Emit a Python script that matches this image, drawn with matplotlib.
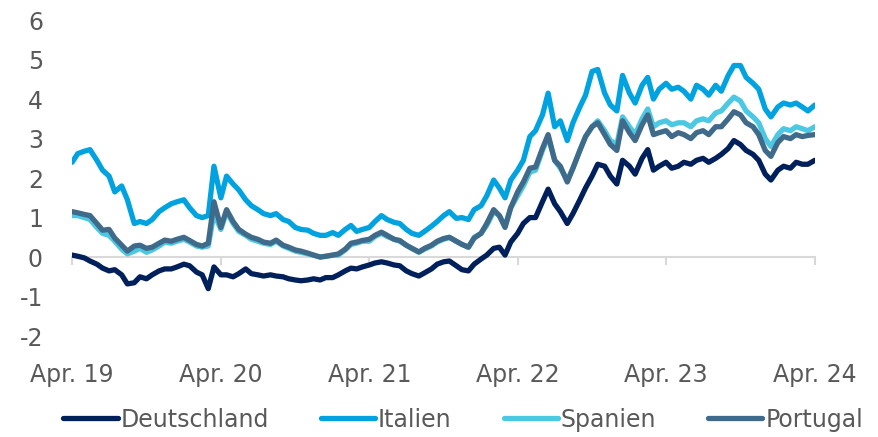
import numpy as np
import pandas as pd
import matplotlib
matplotlib.use("Agg")
import matplotlib.pyplot as plt

# 10-year government bond yields, semi-monthly readings (%)
deutschland = [0.05, 0.02, -0.02, -0.10, -0.18, -0.28, -0.35, -0.32, -0.45, -0.68,
               -0.65, -0.50, -0.55, -0.45, -0.35, -0.30, -0.30, -0.25, -0.18, -0.22,
               -0.38, -0.45, -0.80, -0.25, -0.45, -0.45, -0.50, -0.42, -0.30, -0.42,
               -0.45, -0.48, -0.45, -0.48, -0.50, -0.55, -0.58, -0.60, -0.58, -0.55,
               -0.58, -0.52, -0.52, -0.45, -0.35, -0.28, -0.30, -0.25, -0.20, -0.15,
               -0.12, -0.15, -0.20, -0.22, -0.35, -0.42, -0.48, -0.40, -0.30, -0.18,
               -0.12, -0.10, -0.22, -0.32, -0.35, -0.18, -0.05, 0.05, 0.22, 0.25,
               0.05, 0.38, 0.60, 0.85, 1.00, 1.00, 1.40, 1.72, 1.35, 1.15,
               0.85, 1.10, 1.45, 1.75, 2.05, 2.35, 2.30, 2.05, 1.85, 2.45,
               2.30, 2.10, 2.50, 2.72, 2.20, 2.30, 2.40, 2.25, 2.30, 2.40,
               2.35, 2.45, 2.50, 2.40, 2.50, 2.60, 2.75, 2.95, 2.85, 2.70,
               2.60, 2.45, 2.10, 1.95, 2.20, 2.30, 2.25, 2.40, 2.35, 2.35,
               2.45]
italien = [2.40, 2.62, 2.68, 2.72, 2.45, 2.20, 2.05, 1.65, 1.80, 1.45,
           0.85, 0.90, 0.85, 0.95, 1.15, 1.25, 1.35, 1.40, 1.45, 1.25,
           1.05, 1.00, 1.05, 2.30, 1.50, 2.05, 1.85, 1.70, 1.45, 1.30,
           1.20, 1.10, 1.05, 1.10, 0.95, 0.90, 0.75, 0.70, 0.68, 0.60,
           0.55, 0.55, 0.62, 0.55, 0.70, 0.80, 0.65, 0.70, 0.75, 0.90,
           1.05, 0.95, 0.88, 0.85, 0.70, 0.60, 0.55, 0.65, 0.78, 0.90,
           1.05, 1.15, 0.98, 1.00, 0.95, 1.20, 1.30, 1.55, 1.95, 1.75,
           1.50, 1.95, 2.20, 2.45, 3.05, 3.20, 3.60, 4.15, 3.30, 3.45,
           2.95, 3.40, 3.80, 4.10, 4.70, 4.75, 4.15, 3.85, 3.70, 4.60,
           4.15, 3.90, 4.35, 4.55, 4.00, 4.25, 4.40, 4.25, 4.30, 4.20,
           4.00, 4.35, 4.25, 4.10, 4.35, 4.20, 4.60, 4.85, 4.85, 4.55,
           4.40, 4.25, 3.75, 3.55, 3.80, 3.90, 3.85, 3.90, 3.80, 3.70,
           3.85]
spanien = [1.05, 1.05, 1.00, 0.95, 0.75, 0.60, 0.55, 0.40, 0.20, 0.08,
           0.15, 0.22, 0.12, 0.18, 0.28, 0.38, 0.35, 0.40, 0.45, 0.38,
           0.28, 0.25, 0.28, 1.10, 0.70, 1.15, 0.85, 0.65, 0.55, 0.45,
           0.40, 0.35, 0.32, 0.40, 0.28, 0.22, 0.15, 0.12, 0.08, 0.05,
           0.00, 0.02, 0.05, 0.05, 0.18, 0.32, 0.35, 0.40, 0.40, 0.52,
           0.60, 0.52, 0.45, 0.40, 0.30, 0.22, 0.12, 0.20, 0.28, 0.38,
           0.45, 0.50, 0.40, 0.32, 0.25, 0.50, 0.60, 0.80, 1.15, 1.05,
           0.78, 1.25, 1.55, 1.80, 2.15, 2.20, 2.70, 3.05, 2.45, 2.25,
           1.95, 2.25, 2.70, 3.05, 3.30, 3.45, 3.20, 2.95, 2.85, 3.55,
           3.30, 3.10, 3.50, 3.75, 3.30, 3.40, 3.45, 3.35, 3.40, 3.40,
           3.30, 3.45, 3.50, 3.45, 3.65, 3.70, 3.90, 4.05, 3.95, 3.70,
           3.55, 3.40, 3.00, 2.80, 3.10, 3.25, 3.20, 3.30, 3.25, 3.20,
           3.30]
portugal = [1.15, 1.12, 1.08, 1.05, 0.85, 0.68, 0.70, 0.48, 0.30, 0.15,
            0.28, 0.30, 0.22, 0.25, 0.35, 0.43, 0.40, 0.45, 0.50, 0.42,
            0.32, 0.28, 0.35, 1.40, 0.75, 1.20, 0.90, 0.70, 0.58, 0.50,
            0.45, 0.38, 0.35, 0.43, 0.30, 0.25, 0.18, 0.15, 0.10, 0.05,
            0.00, 0.02, 0.05, 0.08, 0.20, 0.35, 0.38, 0.42, 0.45, 0.55,
            0.63, 0.55, 0.45, 0.42, 0.30, 0.22, 0.13, 0.22, 0.30, 0.40,
            0.47, 0.50, 0.40, 0.32, 0.25, 0.48, 0.60, 0.85, 1.20, 1.05,
            0.75, 1.25, 1.65, 1.90, 2.25, 2.28, 2.75, 3.10, 2.45, 2.30,
            1.90, 2.25, 2.70, 3.05, 3.30, 3.40, 3.10, 2.85, 2.70, 3.45,
            3.15, 2.95, 3.35, 3.60, 3.10, 3.15, 3.20, 3.05, 3.15, 3.10,
            3.00, 3.15, 3.20, 3.10, 3.30, 3.30, 3.50, 3.68, 3.60, 3.40,
            3.30, 3.10, 2.70, 2.55, 2.90, 3.05, 3.00, 3.10, 3.05, 3.08,
            3.10]

dates = pd.date_range("2019-04-01", periods=len(deutschland), freq="SMS")
tick_dates = pd.to_datetime(["2019-04-01", "2020-04-01", "2021-04-01",
                             "2022-04-01", "2023-04-01", "2024-04-01"])
tick_labels = ["Apr. 19", "Apr. 20", "Apr. 21", "Apr. 22", "Apr. 23", "Apr. 24"]

series = [("Deutschland", deutschland, "#00205B"),
          ("Italien", italien, "#00A3E0"),
          ("Spanien", spanien, "#4DC8E3"),
          ("Portugal", portugal, "#3F6A8A")]

grey = "#595959"
plt.rcParams["font.family"] = ["DejaVu Sans"]
plt.rcParams["axes.unicode_minus"] = False

fig = plt.figure(figsize=(8.79, 4.37), dpi=100)
ax = fig.add_axes([0.082, 0.231, 0.845, 0.723])

for name, vals, col in series:
    ax.plot(dates, vals, color=col, lw=3.8, label=name,
            solid_joinstyle="round", solid_capstyle="round")

ax.set_xlim(tick_dates[0], tick_dates[-1])
ax.set_ylim(-2, 6)
ax.set_yticks(range(-2, 7))

for s in ["top", "right", "left"]:
    ax.spines[s].set_visible(False)
ax.spines["bottom"].set_position(("data", 0))
ax.spines["bottom"].set_color("#D9D9D9")
ax.spines["bottom"].set_linewidth(1.5)
ax.spines["bottom"].set_zorder(0)

ax.set_xticks(tick_dates)
ax.set_xticklabels(tick_labels)
ax.tick_params(axis="x", direction="out", length=6, width=1.5, color="#D9D9D9",
               pad=70, labelsize=17, labelcolor=grey)
ax.tick_params(axis="y", length=0, pad=21, labelsize=17, labelcolor=grey)

leg = fig.legend(loc="center", bbox_to_anchor=(0.527, 0.04), ncol=4, frameon=False,
                 fontsize=17, handlelength=2.3, handletextpad=0.12,
                 columnspacing=2.2, labelcolor=grey)

fig.savefig("out.png", dpi=100)
